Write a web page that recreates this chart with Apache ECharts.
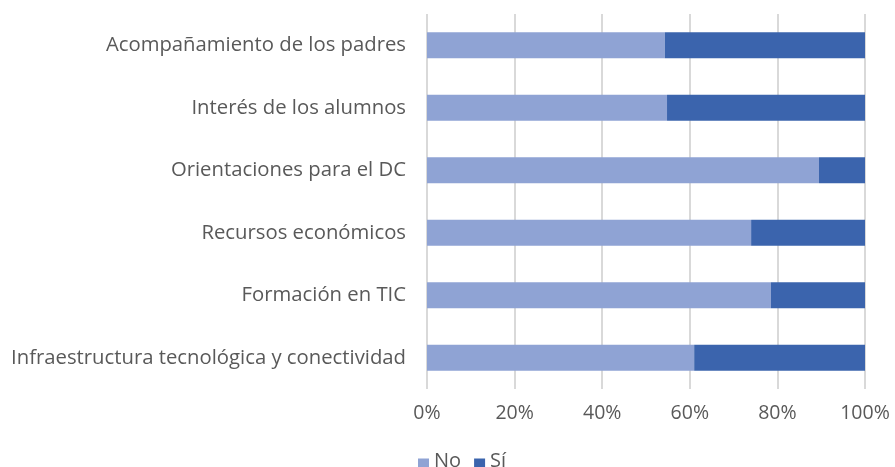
<!DOCTYPE html>
<html><head><meta charset="utf-8">
<script src="https://cdn.jsdelivr.net/npm/echarts@6/dist/echarts.min.js"></script>
<style>html,body{margin:0;padding:0;background:#fff}#c{width:895px;height:467px}</style>
</head><body><div id="c"></div>
<script>
const categories = ["Infraestructura tecnológica y conectividad","Formación en TIC","Recursos económicos","Orientaciones para el DC","Interés de los alumnos","Acompañamiento de los padres"];
const noValues = [61.0, 78.5, 74.0, 89.5, 54.8, 54.3];
const siValues = [39.0, 21.5, 26.0, 10.5, 45.2, 45.7];
const xTicks = [0, 20, 40, 60, 80, 100];
const FONT = 'Open Sans';
const chart = echarts.init(document.getElementById('c'));
chart.setOption({
  animation:false,
  textStyle:{fontFamily:FONT},
  grid:{left:427,right:30,top:14,height:375,containLabel:false},
  legend:{top:446,left:413,itemWidth:11,itemHeight:17,itemGap:13,
    icon:'path://M0,0 M0,6 L11,6 L11,17 L0,17 Z',
    textStyle:{color:'#595959',fontSize:20,fontFamily:FONT},data:['No','Sí']},
  xAxis:{type:'value',min:0,max:100,interval:20,
    axisLine:{show:false},axisTick:{show:false},
    splitLine:{lineStyle:{color:'#d9d9d9',width:2}},
    axisLabel:{color:'#595959',fontSize:19.5,margin:14,formatter:v=>xTicks.includes(v)?v+'%':''}},
  yAxis:{type:'category',data:categories,axisLine:{show:false},axisTick:{show:false},
    axisLabel:{color:'#595959',fontSize:20.3,margin:21}},
  series:[
    {name:'No',type:'bar',stack:'t',data:noValues,barWidth:26,itemStyle:{color:'#8fa3d4'}},
    {name:'Sí',type:'bar',stack:'t',data:siValues,barWidth:26,itemStyle:{color:'#3b64ad'}}
  ]
});
</script></body></html>
